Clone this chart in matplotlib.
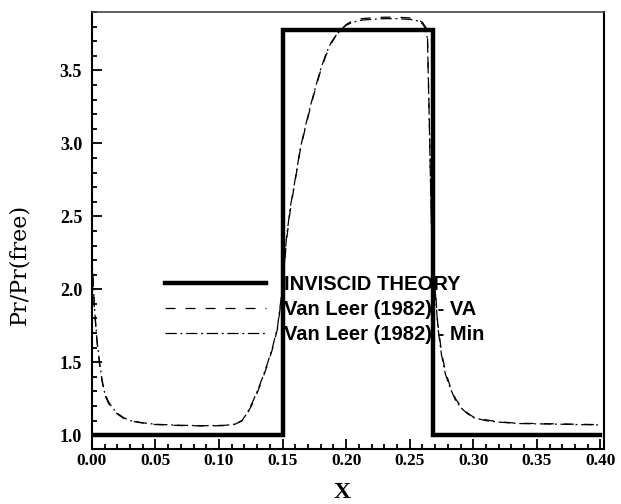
import matplotlib
matplotlib.use("Agg")
import matplotlib.pyplot as plt
from matplotlib.ticker import MultipleLocator, FormatStrFormatter

# inviscid theory (step)
x_inv = [0.0, 0.15, 0.15, 0.268, 0.268, 0.40]
y_inv = [1.0, 1.0, 3.78, 3.78, 1.0, 1.0]

# Van Leer (1982) - Min
x_min = [0.0, 0.001, 0.002, 0.004, 0.006, 0.008, 0.010, 0.013, 0.016, 0.020,
         0.025, 0.030, 0.040, 0.050, 0.070, 0.090, 0.105, 0.112, 0.118, 0.122,
         0.126, 0.130, 0.134, 0.138, 0.142, 0.146, 0.150, 0.153, 0.156, 0.160,
         0.164, 0.168, 0.172, 0.176, 0.180, 0.184, 0.188, 0.192, 0.196, 0.200,
         0.205, 0.212, 0.220, 0.230, 0.240, 0.250, 0.256, 0.260, 0.263, 0.264,
         0.2655, 0.267, 0.268, 0.270, 0.272, 0.275, 0.278, 0.282, 0.286, 0.290,
         0.295, 0.300, 0.310, 0.320, 0.335, 0.350, 0.370, 0.390, 0.400]
y_min = [2.25, 2.05, 1.88, 1.65, 1.50, 1.38, 1.29, 1.23, 1.19, 1.15,
         1.12, 1.10, 1.085, 1.075, 1.068, 1.065, 1.068, 1.075, 1.10, 1.15,
         1.22, 1.30, 1.39, 1.49, 1.60, 1.74, 2.02, 2.35, 2.56, 2.76,
         2.97, 3.12, 3.26, 3.39, 3.51, 3.61, 3.69, 3.74, 3.78, 3.81,
         3.83, 3.845, 3.85, 3.855, 3.855, 3.85, 3.84, 3.82, 3.78, 3.70,
         3.10, 2.45, 2.30, 2.00, 1.75, 1.55, 1.42, 1.32, 1.24, 1.19,
         1.15, 1.12, 1.10, 1.09, 1.08, 1.078, 1.075, 1.072, 1.07]

# Van Leer (1982) - VA (nearly on top of Min)
x_va = x_min
y_va = [2.22, 2.03, 1.86, 1.64, 1.49, 1.37, 1.28, 1.22, 1.18, 1.145,
        1.115, 1.098, 1.083, 1.073, 1.066, 1.063, 1.066, 1.073, 1.098, 1.145,
        1.21, 1.29, 1.38, 1.48, 1.59, 1.73, 2.00, 2.33, 2.54, 2.75,
        2.96, 3.11, 3.25, 3.38, 3.50, 3.60, 3.68, 3.74, 3.78, 3.815,
        3.84, 3.855, 3.86, 3.865, 3.865, 3.86, 3.85, 3.83, 3.79, 3.72,
        3.12, 2.47, 2.32, 2.02, 1.77, 1.57, 1.44, 1.33, 1.25, 1.20,
        1.155, 1.125, 1.105, 1.092, 1.082, 1.08, 1.077, 1.074, 1.072]

labels = ["INVISCID THEORY", "Van Leer (1982) - VA", "Van Leer (1982) - Min"]

fig = plt.figure(figsize=(6.21, 5.04), dpi=100)
ax = fig.add_axes([0.148, 0.109, 0.825, 0.867])

ax.plot(x_inv, y_inv, color="black", lw=3.2, solid_joinstyle="miter", label=labels[0], zorder=3)
ax.plot(x_va, y_va, color="black", lw=0.9, dashes=(8, 8), label=labels[1], zorder=2)
ax.plot(x_min, y_min, color="black", lw=0.9, dashes=(9, 3, 1.5, 3), label=labels[2], zorder=2)

ax.set_xlim(0, 0.403)
ax.set_ylim(0.905, 3.9)

ax.xaxis.set_major_locator(MultipleLocator(0.05))
ax.xaxis.set_minor_locator(MultipleLocator(0.01))
ax.yaxis.set_major_locator(MultipleLocator(0.5))
ax.yaxis.set_minor_locator(MultipleLocator(0.1))
ax.xaxis.set_major_formatter(FormatStrFormatter("%.2f"))
ax.yaxis.set_major_formatter(FormatStrFormatter("%.1f"))

ax.tick_params(which="both", direction="in", top=False, right=False, width=1.3, color="black")
ax.tick_params(which="major", length=7)
ax.tick_params(which="minor", length=3.5)
ax.tick_params(axis="x", pad=3)
ax.tick_params(axis="y", pad=7)
for lab in ax.get_xticklabels():
    lab.set_fontfamily("Liberation Serif")
    lab.set_fontweight("bold")
    lab.set_fontsize(12.5)
for lab in ax.get_yticklabels():
    lab.set_fontfamily("Liberation Serif")
    lab.set_fontweight("bold")
    lab.set_fontsize(13)

for s in ax.spines.values():
    s.set_linewidth(1.5)
    s.set_color("black")
ax.spines["top"].set_linewidth(1.2)
ax.spines["top"].set_color("#444444")

ax.set_xlabel("X", family="Liberation Serif", fontweight="bold", fontsize=17)
ax.xaxis.set_label_coords(0.488, -0.075)
ax.set_ylabel("Pr/Pr(free)", family="DejaVu Serif", fontsize=16)
ax.yaxis.set_label_coords(-0.121, 0.423)

leg = ax.legend(loc="center left", bbox_to_anchor=(0.1426, 0.32), frameon=False,
                borderpad=0, borderaxespad=0, handlelength=5.0, handletextpad=0.9,
                labelspacing=0.3, prop={"family": "Liberation Sans", "weight": "bold", "size": 14.5})
leg.set_zorder(1)

fig.savefig("out.png", dpi=100)
